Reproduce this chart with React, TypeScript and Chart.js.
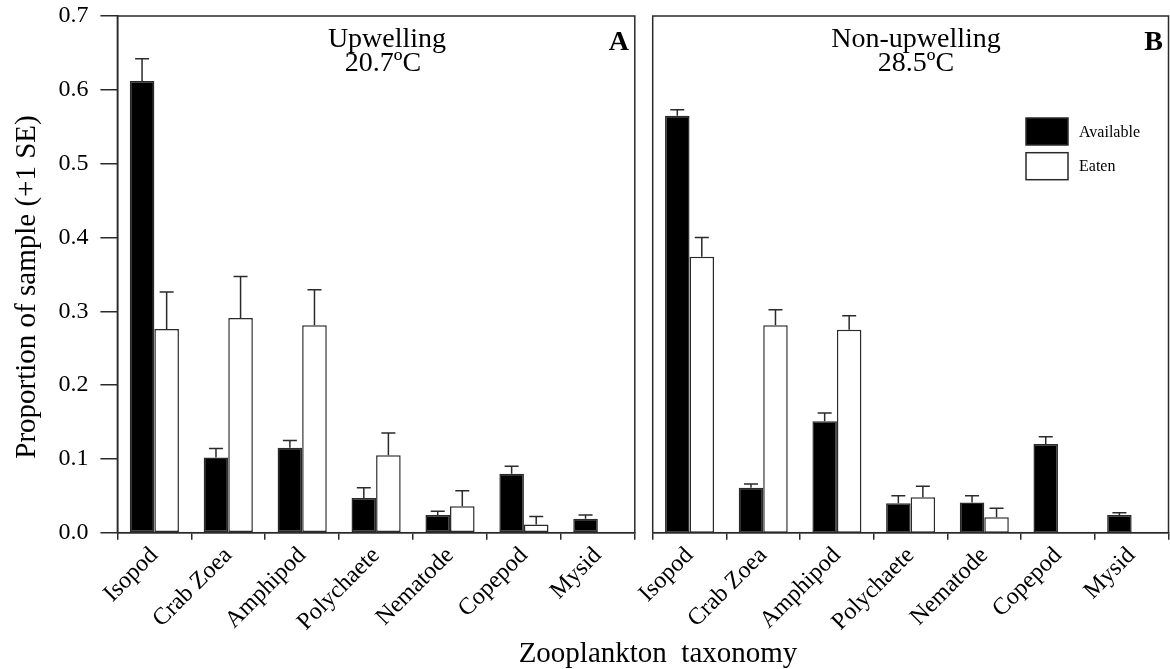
import React, { useEffect, useRef } from 'react';
import { Chart, registerables } from 'chart.js';

Chart.register(...registerables);

// ---------- data ----------
const categories = ['Isopod', 'Crab Zoea', 'Amphipod', 'Polychaete', 'Nematode', 'Copepod', 'Mysid'];

const upAvailable = [0.612, 0.102, 0.115, 0.047, 0.024, 0.080, 0.019];
const upAvailableSE = [0.030, 0.012, 0.010, 0.014, 0.005, 0.010, 0.005];
const upEaten = [0.276, 0.291, 0.281, 0.105, 0.036, 0.011, null];
const upEatenSE = [0.050, 0.056, 0.048, 0.030, 0.021, 0.011, null];

const nonAvailable = [0.565, 0.061, 0.151, 0.040, 0.041, 0.120, 0.024];
const nonAvailableSE = [0.008, 0.005, 0.011, 0.010, 0.009, 0.010, 0.003];
const nonEaten = [0.374, 0.281, 0.275, 0.048, 0.021, null, null];
const nonEatenSE = [0.026, 0.021, 0.019, 0.015, 0.012, null, null];

const yTickLabels = ['0.0', '0.1', '0.2', '0.3', '0.4', '0.5', '0.6', '0.7'];
const seriesNames = ['Available', 'Eaten'];

// ---------- styles ----------
const SERIF = '"Liberation Serif", "Times New Roman", serif';
const INK = '#2a2a2a';
const LINE_W = 1.5;

const errorBarPlugin = {
  id: 'errorBars',
  afterDatasetsDraw(chart: any) {
    const ctx = chart.ctx;
    const yScale = chart.scales.y;
    ctx.save();
    ctx.strokeStyle = INK;
    ctx.lineWidth = LINE_W;
    chart.data.datasets.forEach((ds: any, di: number) => {
      const meta = chart.getDatasetMeta(di);
      (ds.errors || []).forEach((se: number | null, i: number) => {
        const v = ds.data[i];
        if (v == null || se == null) return;
        const bar = meta.data[i];
        if (!bar) return;
        const x = bar.x;
        const y0 = yScale.getPixelForValue(v);
        const y1 = yScale.getPixelForValue(v + se);
        const half = 7;
        ctx.beginPath();
        ctx.moveTo(x, y0);
        ctx.lineTo(x, y1);
        ctx.moveTo(x - half, y1);
        ctx.lineTo(x + half, y1);
        ctx.stroke();
      });
    });
    ctx.restore();
  },
};

const framePlugin = {
  id: 'frame',
  afterDraw(chart: any) {
    const { left, right, top, bottom } = chart.chartArea;
    const ctx = chart.ctx;
    ctx.save();
    ctx.strokeStyle = INK;
    ctx.lineWidth = LINE_W;
    ctx.strokeRect(left, top, right - left, bottom - top);
    ctx.restore();
  },
};

const textPlugin = {
  id: 'texts',
  afterDraw(chart: any, _args: any, opts: any) {
    const ctx = chart.ctx;
    (opts.items || []).forEach((it: any) => {
      ctx.save();
      ctx.fillStyle = '#000';
      ctx.font = it.font;
      ctx.textAlign = it.align || 'center';
      ctx.textBaseline = it.baseline || 'alphabetic';
      ctx.translate(it.x, it.y);
      if (it.rotate) ctx.rotate(it.rotate);
      ctx.fillText(it.text, 0, 0);
      ctx.restore();
    });
  },
};

const legendPlugin = {
  id: 'boxLegend',
  afterDraw(chart: any, _args: any, opts: any) {
    if (!opts.show) return;
    const ctx = chart.ctx;
    const { x, y, w, h, gap, textX } = opts;
    ctx.save();
    chart.data.datasets.forEach((ds: any, i: number) => {
      const top = y + i * gap;
      ctx.fillStyle = ds.backgroundColor;
      ctx.fillRect(x, top, w, h);
      ctx.strokeStyle = INK;
      ctx.lineWidth = LINE_W;
      ctx.strokeRect(x, top, w, h);
      ctx.fillStyle = '#000';
      ctx.font = `16px ${SERIF}`;
      ctx.textAlign = 'left';
      ctx.textBaseline = 'middle';
      ctx.fillText(ds.label, textX, top + h / 2 + 1);
    });
    ctx.restore();
  },
};

interface PanelProps {
  left: number;
  width: number;
  available: (number | null)[];
  availableSE: (number | null)[];
  eaten: (number | null)[];
  eatenSE: (number | null)[];
  showY: boolean;
  yWidth: number;
  padLeft: number;
  padRight: number;
  texts: any[];
  legend: any;
}

function Panel(props: PanelProps) {
  const ref = useRef<HTMLCanvasElement | null>(null);
  useEffect(() => {
    if (!ref.current) return;
    const chart = new Chart(ref.current, {
      type: 'bar',
      data: {
        labels: categories,
        datasets: [
          {
            label: seriesNames[0],
            data: props.available,
            errors: props.availableSE,
            backgroundColor: '#000000',
            borderColor: INK,
            borderWidth: LINE_W,
            borderSkipped: false,
          } as any,
          {
            label: seriesNames[1],
            data: props.eaten,
            errors: props.eatenSE,
            backgroundColor: '#ffffff',
            borderColor: INK,
            borderWidth: LINE_W,
            borderSkipped: false,
          } as any,
        ],
      },
      options: {
        responsive: false,
        animation: false,
        layout: { padding: { left: props.padLeft, right: props.padRight, top: 16, bottom: 0 } },
        datasets: { bar: { categoryPercentage: 0.665, barPercentage: 1 } },
        plugins: {
          legend: { display: false },
          tooltip: { enabled: false },
          texts: { items: props.texts },
          boxLegend: props.legend,
        } as any,
        scales: {
          x: {
            type: 'category',
            offset: true,
            grid: {
              display: true,
              drawOnChartArea: false,
              drawTicks: true,
              tickLength: 7,
              offset: true,
              color: INK,
              lineWidth: LINE_W,
            },
            border: { display: true, color: INK, width: LINE_W },
            ticks: {
              autoSkip: false,
              minRotation: 45,
              maxRotation: 45,
              padding: 2,
              color: '#000',
              font: { family: SERIF, size: 24 },
            },
            afterFit: (s: any) => {
              s.height = 136.3;
              s.paddingLeft = 0;
              s.paddingRight = 0;
            },
          },
          y: {
            display: props.showY,
            min: 0,
            max: 0.7,
            grid: {
              drawOnChartArea: false,
              drawTicks: true,
              tickLength: 17,
              color: INK,
              lineWidth: LINE_W,
            },
            border: { display: true, color: INK, width: LINE_W },
            ticks: {
              stepSize: 0.1,
              padding: 12,
              color: '#000',
              font: { family: SERIF, size: 24 },
              callback: (_v: any, i: number) => yTickLabels[i],
            },
            afterFit: (s: any) => {
              s.width = props.yWidth;
              s.paddingTop = 0;
              s.paddingBottom = 0;
            },
          },
        },
      } as any,
      plugins: [errorBarPlugin, framePlugin, textPlugin, legendPlugin],
    });
    return () => chart.destroy();
  }, []);
  return (
    <canvas
      ref={ref}
      width={props.width}
      height={669}
      style={{ position: 'absolute', left: props.left, top: 0, width: props.width, height: 669 }}
    />
  );
}

export default function App() {
  const headFont = `28px ${SERIF}`;
  const letterFont = `bold 28px ${SERIF}`;
  const textsA = [
    { text: 'Upwelling', x: 387, y: 47, font: headFont },
    { text: '20.7ºC', x: 383, y: 71, font: headFont },
    { text: 'A', x: 629, y: 50, font: letterFont, align: 'right' },
    {
      text: 'Proportion of sample (+1 SE)',
      x: 27,
      y: 287,
      font: `29px ${SERIF}`,
      baseline: 'middle',
      rotate: -Math.PI / 2,
    },
  ];
  const textsB = [
    { text: 'Non-upwelling', x: 316, y: 47, font: headFont },
    { text: '28.5ºC', x: 316, y: 71, font: headFont },
    { text: 'B', x: 563, y: 50, font: letterFont, align: 'right' },
  ];
  return (
    <div
      style={{
        position: 'fixed',
        left: 0,
        top: 0,
        width: 1170,
        height: 669,
        background: '#fff',
        overflow: 'hidden',
      }}
    >
      <Panel
        left={0}
        width={645}
        available={upAvailable}
        availableSE={upAvailableSE}
        eaten={upEaten}
        eatenSE={upEatenSE}
        showY={true}
        yWidth={117.4}
        padLeft={0}
        padRight={10.2}
        texts={textsA}
        legend={{ show: false }}
      />
      <Panel
        left={600}
        width={570}
        available={nonAvailable}
        availableSE={nonAvailableSE}
        eaten={nonEaten}
        eatenSE={nonEatenSE}
        showY={false}
        yWidth={0}
        padLeft={52.7}
        padRight={1.5}
        texts={textsB}
        legend={{ show: true, x: 426, y: 118, w: 42, h: 27, gap: 34.7, textX: 479 }}
      />
      <div
        style={{
          position: 'absolute',
          left: 358,
          width: 600,
          top: 637.7,
          textAlign: 'center',
          fontFamily: SERIF,
          fontSize: 29,
          lineHeight: '29px',
          whiteSpace: 'pre',
          color: '#000',
        }}
      >
        {'Zooplankton  taxonomy'}
      </div>
    </div>
  );
}
